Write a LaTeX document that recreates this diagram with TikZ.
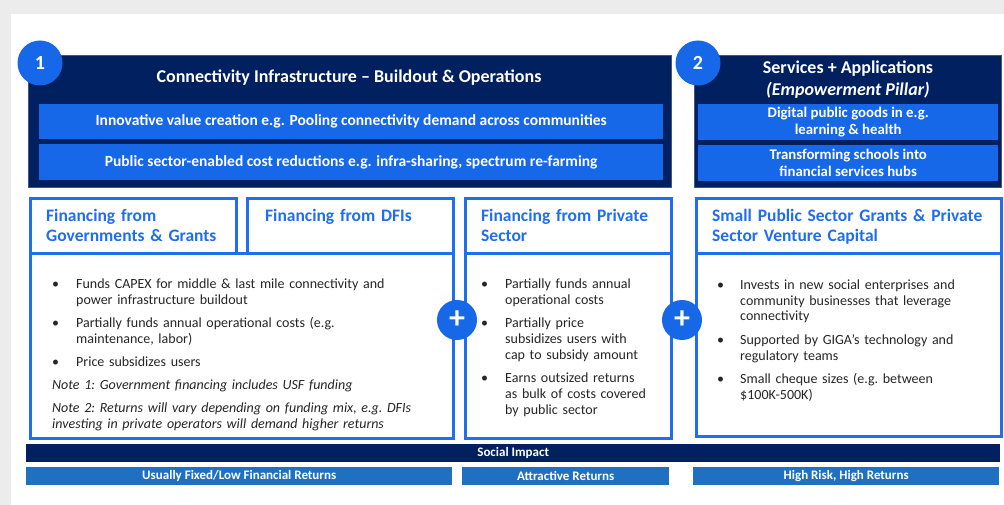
\documentclass[tikz,border=0pt]{standalone}
\usepackage{fontspec}
\setmainfont{Carlito}
\definecolor{deep}{RGB}{0,32,96}
\definecolor{bright}{RGB}{22,104,232}
\definecolor{edge}{RGB}{30,110,240}
\definecolor{steel}{RGB}{31,112,193}
\definecolor{paper}{RGB}{236,236,236}
\definecolor{ink}{RGB}{38,38,38}
\usepackage{tikz}
\newlength{\ggind}
\setlength{\ggind}{24pt}
\newif\ifggmore
% bullet line and note line
\newcommand{\ggitem}[1]{\ifggmore\par\vskip7pt\fi\ggmoretrue\hangindent=\ggind\hangafter=1\noindent\hbox to \ggind{\textbullet\hfil}#1}
\newcommand{\ggnote}[1]{\ifggmore\par\vskip7pt\fi\ggmoretrue\noindent\textit{#1}}
\tikzset{
  % box
	ggdark/.style     ={fill=deep,draw=deep!75!white,line width=.6pt,anchor=north west,inner sep=0pt},
	ggbar/.style      ={fill=bright,text=white,anchor=north west,inner sep=0pt,align=center,font=\fontsize{15.5}{17}\selectfont\bfseries},
	ggbarr/.style     ={ggbar,font=\fontsize{14.8}{17}\selectfont\bfseries},
	gghead/.style     ={draw=edge,line width=3pt,fill=white,anchor=north west,inner sep=0pt},
  % text
	ggtitle/.style    ={text=white,align=center,font=\fontsize{18}{22}\selectfont\bfseries},
	gghtext/.style    ={text=edge,anchor=base west,inner sep=0pt,font=\fontsize{17.5}{20}\selectfont\bfseries},
	ggtext/.style     ={text=ink,anchor=base west,inner sep=0pt,font=\fontsize{14}{16}\selectfont\frenchspacing},
  % circle
	ggnum/.style      ={circle,fill=bright,text=white,minimum size=45pt,inner sep=0pt,font=\fontsize{20}{20}\selectfont\bfseries},
	ggplus/.style     ={circle,fill=bright,text=white,minimum size=40pt,inner sep=0pt,font=\fontsize{32}{32}\selectfont\bfseries},
  % strip
	ggimpact/.style   ={fill=deep,text=white,anchor=north west,inner sep=0pt,font=\fontsize{13}{13}\selectfont\bfseries},
	ggreturn/.style   ={fill=steel,text=white,anchor=north west,inner sep=0pt,font=\fontsize{13}{13}\selectfont\bfseries}
}

\begin{document}
\begin{tikzpicture}[x=1pt,y=-1pt]
	\useasboundingbox (0,0) rectangle (1004,505);
	\fill[paper] (0,0) rectangle (1004,505);
	\fill[white] (11,14) rectangle (1004,505);
	% pillar 1
	\node[ggdark,minimum width=643pt,minimum height=132pt] (infra) at (28,55) {};
	\node[ggtitle] (infratitle) at (349,78) {Connectivity Infrastructure -- Buildout \& Operations};
	\node[ggbar,minimum width=624pt,minimum height=35pt] (pool) at (39,104) {Innovative value creation e.g. Pooling connectivity demand across communities};
	\node[ggbar,minimum width=624pt,minimum height=36pt] (share) at (39,144) {Public sector-enabled cost reductions e.g. infra-sharing, spectrum re-farming};
	\node[ggnum] (numa) at (40,63) {1};
	% pillar 2
	\node[ggdark,minimum width=307pt,minimum height=132pt] (serv) at (694,55) {};
	\node[ggtitle] (servtitle) at (848,80) {Services + Applications\\\textit{(Empowerment Pillar)}};
	\node[ggbarr,minimum width=300pt,minimum height=36pt] (goods) at (698,104) {Digital public goods in e.g.\\learning \& health};
	\node[ggbarr,minimum width=300pt,minimum height=36pt] (hubs) at (698,145) {Transforming schools into\\financial services hubs};
	\node[ggnum] (numb) at (698,63) {2};
	% financing
	\node[gghead,minimum width=206pt,minimum height=55pt] (govhead) at (29,197) {};
	\node[gghead,minimum width=206pt,minimum height=55pt] (dfihead) at (246,197) {};
	\node[gghead,minimum width=423pt,minimum height=185pt] (govbody) at (29,252) {};
	\node[gghead,minimum width=206pt,minimum height=55pt] (privhead) at (464,197) {};
	\node[gghead,minimum width=206pt,minimum height=185pt] (privbody) at (464,252) {};
	\node[gghead,minimum width=305pt,minimum height=55pt] (venthead) at (695,197) {};
	\node[gghead,minimum width=305pt,minimum height=183pt] (ventbody) at (695,252) {};
	\node[gghtext,text width=185pt] (govname) at (46,222) {Financing from\\Governments \& Grants};
	\node[gghtext,text width=185pt] (dfiname) at (265,222) {Financing from DFIs};
	\node[gghtext,text width=185pt] (privname) at (481,222) {Financing from Private\\Sector};
	\node[gghtext,text width=285pt] (ventname) at (712,222) {Small Public Sector Grants \& Private\\Sector Venture Capital};
	\node[ggtext,text width=395pt] (govtext) at (52,288) {%
		\ggitem{Funds CAPEX for middle \& last mile connectivity and\newline power infrastructure buildout}%
		\ggitem{Partially funds annual operational costs (e.g.\newline maintenance, labor)}%
		\ggitem{Price subsidizes users}%
		\ggnote{Note 1: Government financing includes USF funding}%
		\ggnote{Note 2: Returns will vary depending on funding mix, e.g. DFIs\newline investing in private operators will demand higher returns}\par};
	\node[ggtext,text width=185pt] (privtext) at (481,288) {%
		\ggitem{Partially funds annual\newline operational costs}%
		\ggitem{Partially price\newline subsidizes users with\newline cap to subsidy amount}%
		\ggitem{Earns outsized returns\newline as bulk of costs covered\newline by public sector}\par};
	\node[ggtext,text width=275pt] (venttext) at (717,289) {\setlength{\ggind}{23pt}%
		\ggitem{Invests in new social enterprises and\newline community businesses that leverage\newline connectivity}%
		\ggitem{Supported by GIGA’s technology and\newline regulatory teams}%
		\ggitem{Small cheque sizes (e.g. between\newline \$100K-500K)}\par};
	\node[ggplus] (plusa) at (457,320) {+};
	\node[ggplus] (plusb) at (682,320) {+};
	% returns
	\node[ggimpact,minimum width=974pt,minimum height=18pt] (impact) at (26,444) {Social Impact};
	\node[ggreturn,minimum width=426pt,minimum height=18pt] (retlow) at (26,467) {Usually Fixed/Low Financial Returns};
	\node[ggreturn,minimum width=207pt,minimum height=18pt] (retmid) at (462,467) {Attractive Returns};
	\node[ggreturn,minimum width=306pt,minimum height=18pt] (rethigh) at (693,467) {High Risk, High Returns};
\end{tikzpicture}
\end{document}
